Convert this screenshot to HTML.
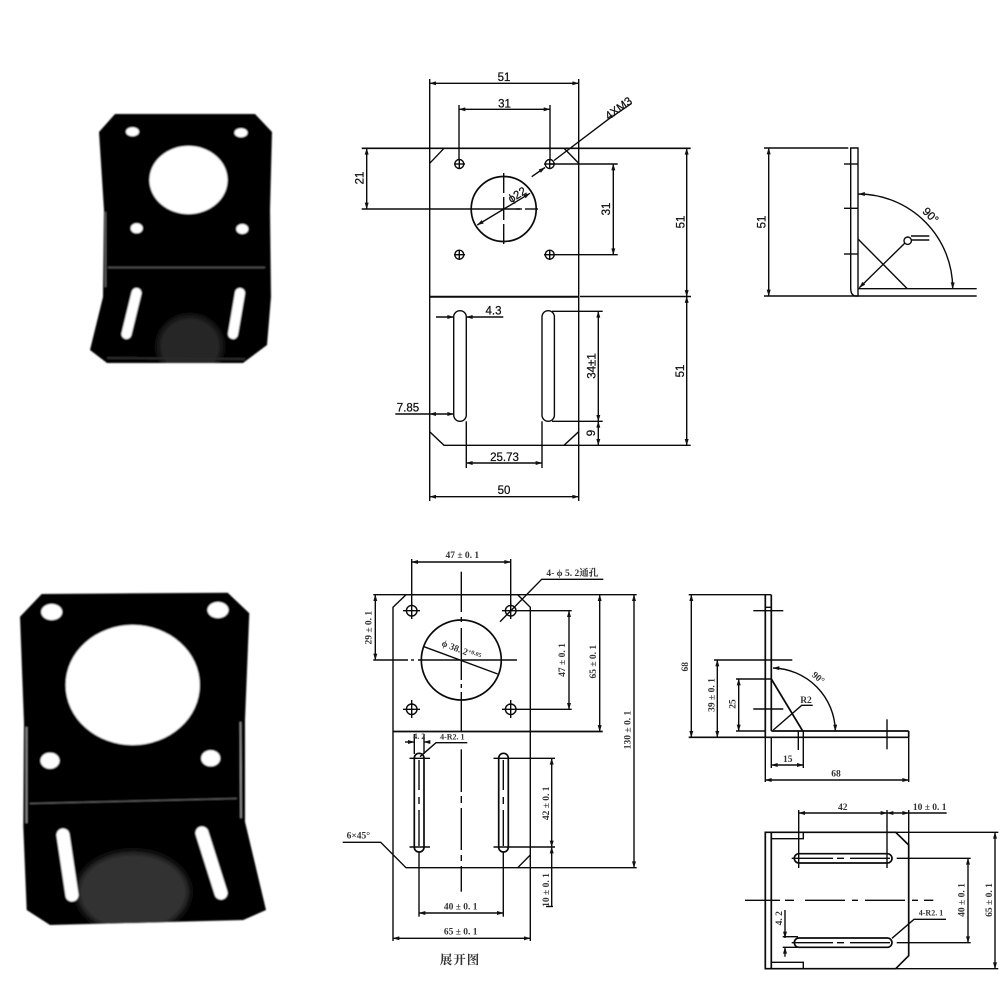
<!DOCTYPE html>
<html>
<head>
<meta charset="utf-8">
<style>
html,body{margin:0;padding:0;background:#fff;}
svg{display:block;}
.a{font-family:"Liberation Sans",sans-serif;font-size:11.500px;fill:#111;stroke:#111;stroke-width:.25;text-anchor:middle;dominant-baseline:middle;}
.b{font-family:"Liberation Serif","Noto Serif CJK SC",serif;font-size:9.500px;font-weight:bold;fill:#333;text-anchor:middle;dominant-baseline:middle;}
.l{filter:blur(.3px);}
.l path,.l line,.l polyline,.l polygon,.l circle,.l rect{fill:none;stroke:#0a0a0a;stroke-width:1.400;}
</style>
</head>
<body>
<svg width="1000" height="1000" viewBox="0 0 1000 1000" xmlns="http://www.w3.org/2000/svg">
<defs>
<marker id="m" viewBox="0 0 10 6" refX="9.500" refY="3" markerWidth="7" markerHeight="4" markerUnits="userSpaceOnUse" orient="auto-start-reverse"><path d="M0 0L10 3L0 6Z" fill="#111"/></marker>
<filter id="s" x="-5%" y="-5%" width="110%" height="110%"><feGaussianBlur stdDeviation="0.7"/></filter>
<filter id="s2" x="-30%" y="-30%" width="160%" height="160%"><feGaussianBlur stdDeviation="3"/></filter>
<clipPath id="c1"><polygon points="106,296 103,296 90,350 107,363 243,363 267,345 270,296"/></clipPath>
<clipPath id="c2"><polygon points="23,827 27,910 50,925 243,920 266,910 245,822"/></clipPath>
</defs>

<!-- Photo 1 -->
<g filter="url(#s)">
<polygon points="115,114 255,114 272,132 270,210 271,297 267,345 243,363 107,363 90,350 103,297 104,210 99,132" fill="#050505"/>
<g clip-path="url(#c1)"><ellipse cx="190" cy="346" rx="32" ry="30" fill="#262626" filter="url(#s2)"/></g>
<line x1="108" y1="267.500" x2="265" y2="267.500" stroke="#555" stroke-width="1.500"/>
<line x1="105.500" y1="212" x2="105.500" y2="287" stroke="#666" stroke-width="1.500"/>
<line x1="107" y1="358" x2="245" y2="359" stroke="#2a2a2a" stroke-width="2"/>
<ellipse cx="188.500" cy="180" rx="39" ry="34" fill="#fff"/>
<ellipse cx="132.500" cy="131.700" rx="6.500" ry="4.500" fill="#fff"/>
<ellipse cx="241" cy="132.700" rx="6.500" ry="4.500" fill="#fff"/>
<ellipse cx="136.700" cy="228.300" rx="6" ry="5" fill="#fff"/>
<ellipse cx="242.300" cy="229" rx="6" ry="5" fill="#fff"/>
<line x1="136.500" y1="293" x2="126.500" y2="334" stroke="#fff" stroke-width="10" stroke-linecap="round"/>
<line x1="240" y1="293" x2="233" y2="334" stroke="#fff" stroke-width="10" stroke-linecap="round"/>
</g>

<!-- Photo 2 -->
<g filter="url(#s)">
<polygon points="41.700,594 227.700,592.700 249.300,613.300 245,720 245,821.700 266,910 243.300,920 50,925 26.700,910 23.300,826.700 24,723 20,616.700" fill="#050505"/>
<g clip-path="url(#c2)"><ellipse cx="133" cy="892" rx="56" ry="40" fill="#303030" filter="url(#s2)"/></g>
<line x1="30" y1="803.500" x2="236.700" y2="798.500" stroke="#666" stroke-width="1"/>
<line x1="26.500" y1="727" x2="26.500" y2="823" stroke="#999" stroke-width="1.500"/>
<line x1="240.500" y1="722" x2="241" y2="818" stroke="#999" stroke-width="1.500"/>
<ellipse cx="132.700" cy="685" rx="67" ry="60" fill="#fff"/>
<ellipse cx="51.700" cy="612" rx="10.500" ry="8" fill="#fff"/>
<ellipse cx="218" cy="610" rx="10.500" ry="8" fill="#fff"/>
<ellipse cx="50" cy="760.700" rx="9.500" ry="8" fill="#fff"/>
<ellipse cx="210.700" cy="758.300" rx="9.500" ry="8" fill="#fff"/>
<line x1="63" y1="835" x2="72" y2="895" stroke="#fff" stroke-width="13" stroke-linecap="round"/>
<line x1="202" y1="833" x2="221" y2="893" stroke="#fff" stroke-width="13" stroke-linecap="round"/>
</g>

<!-- Top front drawing -->
<g class="l">
<line x1="429.700" y1="79" x2="429.700" y2="501"/>
<line x1="578.700" y1="79" x2="578.700" y2="501"/>
<line x1="429.700" y1="83.300" x2="578.700" y2="83.300" marker-start="url(#m)" marker-end="url(#m)"/>
<line x1="459" y1="105" x2="459" y2="160"/>
<line x1="550" y1="105" x2="550" y2="160"/>
<line x1="459" y1="109.300" x2="550" y2="109.300" marker-start="url(#m)" marker-end="url(#m)"/>
<line x1="361.700" y1="148.300" x2="690.700" y2="148.300" style="stroke-width:1.700"/>
<line x1="429.700" y1="163.300" x2="444" y2="148.300"/>
<line x1="564" y1="148.300" x2="578.700" y2="163.300"/>
<circle cx="459.300" cy="164" r="4.500"/><circle cx="549.700" cy="164" r="4.500"/>
<circle cx="459.300" cy="254.700" r="4.500"/><circle cx="549.700" cy="254.700" r="4.500"/>
<line x1="454" y1="164" x2="465" y2="164"/><line x1="459.300" y1="159" x2="459.300" y2="169"/>
<line x1="544" y1="164" x2="555" y2="164"/><line x1="549.700" y1="159" x2="549.700" y2="169"/>
<line x1="454" y1="254.700" x2="465" y2="254.700"/><line x1="459.300" y1="250" x2="459.300" y2="260"/>
<line x1="544" y1="254.700" x2="555" y2="254.700"/><line x1="549.700" y1="250" x2="549.700" y2="260"/>
<circle cx="503.700" cy="209" r="32.500" style="stroke-width:1.700"/>
<line x1="361.700" y1="209" x2="520" y2="209"/><line x1="516" y1="209" x2="522" y2="209"/><line x1="525" y1="209" x2="538" y2="209"/>
<line x1="503.700" y1="173" x2="503.700" y2="193"/><line x1="503.700" y1="197" x2="503.700" y2="220"/><line x1="503.700" y1="224" x2="503.700" y2="244"/>
<line x1="477.300" y1="225" x2="530" y2="193.300" marker-start="url(#m)" marker-end="url(#m)"/>
<line x1="366.700" y1="148.300" x2="366.700" y2="209" marker-start="url(#m)" marker-end="url(#m)"/>
<line x1="549.700" y1="164" x2="617.700" y2="164"/>
<line x1="549.700" y1="254.700" x2="617.700" y2="254.700"/>
<line x1="613.300" y1="164" x2="613.300" y2="254.700" marker-start="url(#m)" marker-end="url(#m)"/>
<line x1="686.700" y1="148.300" x2="686.700" y2="296.500" marker-start="url(#m)" marker-end="url(#m)"/>
<line x1="686.700" y1="296.500" x2="686.700" y2="445.300" marker-start="url(#m)" marker-end="url(#m)"/>
<line x1="580" y1="296.500" x2="691" y2="296.500"/>
<line x1="429.700" y1="296.700" x2="578.700" y2="296.700" style="stroke-width:2"/>
<line x1="531.700" y1="176.700" x2="545" y2="167.500" marker-end="url(#m)"/>
<polyline points="554,160.500 608.300,119.300 631.700,103.300"/>
<!-- lower -->
<path d="M429.700 431.700L444 445.300L564 445.300L578.700 431.700"/>
<line x1="564" y1="445.300" x2="690.700" y2="445.300"/>
<rect x="453.700" y="310.700" width="12.600" height="110.600" rx="6.300"/>
<rect x="542" y="310.700" width="12.400" height="110.600" rx="6.200"/>
<line x1="436" y1="317" x2="453.700" y2="317" marker-end="url(#m)"/>
<line x1="466.300" y1="317" x2="503.300" y2="317" marker-start="url(#m)"/>
<line x1="395.300" y1="414" x2="429.700" y2="414"/>
<line x1="429.700" y1="414" x2="453.700" y2="414" marker-start="url(#m)" marker-end="url(#m)"/>
<line x1="552" y1="311.300" x2="602.700" y2="311.300"/>
<line x1="552" y1="421.300" x2="602.700" y2="421.300"/>
<line x1="598.300" y1="311.300" x2="598.300" y2="421.300" marker-start="url(#m)" marker-end="url(#m)"/>
<line x1="598.300" y1="421.300" x2="598.300" y2="445.300" marker-start="url(#m)" marker-end="url(#m)"/>
<line x1="466.300" y1="421.300" x2="466.300" y2="468"/>
<line x1="542" y1="421.300" x2="542" y2="468"/>
<line x1="466.300" y1="463" x2="542" y2="463" marker-start="url(#m)" marker-end="url(#m)"/>
<line x1="429.700" y1="496.700" x2="578.700" y2="496.700" marker-start="url(#m)" marker-end="url(#m)"/>
</g>
<text class="a" x="504" y="78">51</text>
<text class="a" x="504.500" y="104.500">31</text>
<text class="a" transform="translate(360.500 178) rotate(-90)">21</text>
<text class="a" transform="translate(607 209) rotate(-90)">31</text>
<text class="a" transform="translate(681.500 222) rotate(-90)">51</text>
<text class="a" transform="translate(619 109) rotate(-36)">4XM3</text>
<text class="a" transform="translate(517.500 195.500) rotate(-32)">ϕ22</text>
<text class="a" x="493.500" y="311.500">4.3</text>
<text class="a" x="408" y="408.500">7.85</text>
<text class="a" transform="translate(592.500 366) rotate(-90)">34±1</text>
<text class="a" transform="translate(592 433) rotate(-90)">9</text>
<text class="a" transform="translate(681 371) rotate(-90)">51</text>
<text class="a" x="504.500" y="458">25.73</text>
<text class="a" x="504" y="491">50</text>

<!-- Top side drawing -->
<g class="l">
<line x1="764" y1="148" x2="848.300" y2="148"/>
<path d="M850.700 148L858 148L858 296L855 296Q850.700 295 850.700 288Z"/>
<line x1="764" y1="296" x2="976.700" y2="296"/>
<line x1="858" y1="288.700" x2="976.700" y2="288.700"/>
<line x1="768.700" y1="148" x2="768.700" y2="296" marker-start="url(#m)" marker-end="url(#m)"/>
<line x1="844" y1="164" x2="858" y2="164"/>
<line x1="844" y1="208.300" x2="858" y2="208.300"/>
<line x1="844" y1="254" x2="858" y2="254"/>
<line x1="858" y1="239" x2="907.300" y2="288.700"/>
<line x1="905" y1="243" x2="859.300" y2="287.700" marker-end="url(#m)"/>
<circle cx="907.700" cy="240.700" r="3.700"/>
<line x1="911" y1="236" x2="929.300" y2="236"/>
<line x1="911" y1="240" x2="929.300" y2="240"/>
<path d="M858.500 194A94.500 94.500 0 0 1 952.700 288.700" marker-start="url(#m)" marker-end="url(#m)"/>
</g>
<text class="a" transform="translate(762.500 222) rotate(-90)">51</text>
<text class="a" transform="translate(930 216) rotate(45)">90°</text>

<!-- Bottom unfolded drawing -->
<g class="l">
<path d="M393 941L393 607.300L406 594.700L517.700 594.700L530.300 607.300L530.300 855L517.700 867.700L406 867.700L380.700 842.300L342.700 842.300"/>
<line x1="530.300" y1="855" x2="530.300" y2="941"/>
<line x1="373.300" y1="594.700" x2="636.700" y2="594.700"/>
<line x1="393" y1="731.500" x2="602.700" y2="731.500" style="stroke-width:1.800"/>
<line x1="517.700" y1="867.700" x2="636.700" y2="867.700"/>
<line x1="411.700" y1="559" x2="411.700" y2="605"/>
<line x1="510.700" y1="559" x2="510.700" y2="605"/>
<line x1="411.700" y1="562" x2="510.700" y2="562" marker-start="url(#m)" marker-end="url(#m)"/>
<circle cx="411.700" cy="610.700" r="5.300"/><circle cx="510.700" cy="610.700" r="5.300"/>
<circle cx="411.700" cy="709.300" r="5.300"/><circle cx="510.700" cy="709.300" r="5.300"/>
<line x1="403" y1="610.700" x2="420" y2="610.700"/><line x1="411.700" y1="602" x2="411.700" y2="619"/>
<line x1="502" y1="610.700" x2="571.700" y2="610.700"/><line x1="510.700" y1="602" x2="510.700" y2="619"/>
<line x1="403" y1="709.300" x2="420" y2="709.300"/><line x1="411.700" y1="700" x2="411.700" y2="718"/>
<line x1="502" y1="709.300" x2="571.700" y2="709.300"/><line x1="510.700" y1="700" x2="510.700" y2="718"/>
<circle cx="461.300" cy="660" r="40" style="stroke-width:1.700"/>
<line x1="373.300" y1="660" x2="408" y2="660"/><line x1="411" y1="660" x2="414" y2="660"/><line x1="418" y1="660" x2="460" y2="660"/><line x1="462" y1="660" x2="517" y2="660"/>
<line x1="461.300" y1="571.700" x2="461.300" y2="612"/><line x1="461.300" y1="617" x2="461.300" y2="622"/><line x1="461.300" y1="628" x2="461.300" y2="680"/><line x1="461.300" y1="684" x2="461.300" y2="688"/><line x1="461.300" y1="692" x2="461.300" y2="731"/>
<line x1="461.300" y1="749.300" x2="461.300" y2="792"/><line x1="461.300" y1="796" x2="461.300" y2="803"/><line x1="461.300" y1="808" x2="461.300" y2="850"/><line x1="461.300" y1="855" x2="461.300" y2="861"/><line x1="461.300" y1="866" x2="461.300" y2="891.700"/>
<line x1="424" y1="646.700" x2="497.700" y2="674"/>
<polyline points="500,621.700 541.700,579.300 603.300,579.300"/>
<line x1="375.300" y1="594.700" x2="375.300" y2="660" marker-start="url(#m)" marker-end="url(#m)"/>
<line x1="569" y1="610.700" x2="569" y2="709.300" marker-start="url(#m)" marker-end="url(#m)"/>
<line x1="599.700" y1="594.700" x2="599.700" y2="731.500" marker-start="url(#m)" marker-end="url(#m)"/>
<line x1="634" y1="594.700" x2="634" y2="867.700" marker-start="url(#m)" marker-end="url(#m)"/>
<rect x="414.300" y="753.300" width="9.700" height="98.700" rx="4.800" style="stroke-width:1.700"/>
<rect x="498.700" y="753.300" width="9.600" height="98.700" rx="4.800" style="stroke-width:1.700"/>
<line x1="419" y1="760" x2="419" y2="790"/><line x1="419" y1="797" x2="419" y2="804"/><line x1="419" y1="810" x2="419" y2="846"/>
<line x1="503.300" y1="760" x2="503.300" y2="790"/><line x1="503.300" y1="797" x2="503.300" y2="804"/><line x1="503.300" y1="810" x2="503.300" y2="846"/>
<line x1="409.500" y1="758.300" x2="430" y2="758.300"/>
<line x1="493.500" y1="758.300" x2="555" y2="758.300"/>
<line x1="409.500" y1="847" x2="430" y2="847"/>
<line x1="493.500" y1="847" x2="555" y2="847"/>
<line x1="551.700" y1="758.300" x2="551.700" y2="847" marker-start="url(#m)" marker-end="url(#m)"/>
<line x1="551.700" y1="847" x2="551.700" y2="867.700" marker-start="url(#m)"/>
<line x1="551.700" y1="867.700" x2="551.700" y2="906"/>
<line x1="546" y1="906.500" x2="553" y2="906.500"/>
<line x1="419" y1="852" x2="419" y2="916.700"/>
<line x1="503.300" y1="852" x2="503.300" y2="916.700"/>
<line x1="419" y1="913" x2="503.300" y2="913" marker-start="url(#m)" marker-end="url(#m)"/>
<line x1="393" y1="938.300" x2="530.300" y2="938.300" marker-start="url(#m)" marker-end="url(#m)"/>
<line x1="405" y1="742" x2="414.300" y2="742" marker-end="url(#m)"/>
<line x1="424" y1="742" x2="430" y2="742" marker-start="url(#m)"/>
<line x1="414.300" y1="734" x2="414.300" y2="754"/>
<line x1="424" y1="734" x2="424" y2="754"/>
<polyline points="420,756.700 436,742.700 467.300,742.700"/>
</g>
<text class="b" x="462.300" y="556">47 ± 0. 1</text>
<text class="b" x="572.300" y="573.700">4- ϕ 5. 2通孔</text>
<text class="b" transform="translate(369.300 627.700) rotate(-90)">29 ± 0. 1</text>
<text class="b" transform="translate(563 660) rotate(-90)">47 ± 0. 1</text>
<text class="b" transform="translate(594 661.700) rotate(-90)">65 ± 0. 1</text>
<text class="b" transform="translate(628.300 730) rotate(-90)">130 ± 0. 1</text>
<text class="b" transform="translate(461 651) rotate(21)">ϕ 38. 2<tspan dy="-2" style="font-size:6px">+0.05</tspan></text>
<text class="b" transform="translate(546.700 803.300) rotate(-90)">42 ± 0. 1</text>
<text class="b" transform="translate(546.700 890) rotate(-90)">10 ± 0. 1</text>
<text class="b" x="460.700" y="907.300">40 ± 0. 1</text>
<text class="b" x="460.700" y="932.300">65 ± 0. 1</text>
<text class="b" x="358.300" y="836.300">6×45°</text>
<text class="b" x="419.300" y="737.300" style="font-size:8px">4. 2</text>
<text class="b" x="452.300" y="737.700" style="font-size:8px">4-R2. 1</text>
<text x="460" y="961" style="font-family:'Noto Serif CJK SC',serif;font-size:12.500px;font-weight:bold;fill:#333;text-anchor:middle;dominant-baseline:middle;letter-spacing:1px">展开图</text>

<!-- Bottom side view -->
<g class="l">
<line x1="688.700" y1="594.700" x2="771.300" y2="594.700"/>
<path d="M765.300 594.700L765.300 737.300M771.300 594.700L771.300 731" style="stroke-width:1.700"/>
<line x1="765.300" y1="607.300" x2="771.300" y2="607.300"/>
<line x1="688.700" y1="737.300" x2="908.700" y2="737.300" style="stroke-width:1.700"/>
<line x1="771.300" y1="731" x2="908.700" y2="731" style="stroke-width:1.700"/>
<line x1="908.700" y1="731" x2="908.700" y2="737.300" style="stroke-width:1.700"/>
<line x1="691.300" y1="594.700" x2="691.300" y2="737.300" marker-start="url(#m)" marker-end="url(#m)"/>
<line x1="714" y1="660" x2="792.300" y2="660"/>
<line x1="717.300" y1="660" x2="717.300" y2="737.300" marker-start="url(#m)" marker-end="url(#m)"/>
<line x1="736" y1="679" x2="771.300" y2="679"/>
<line x1="736" y1="731" x2="765.300" y2="731"/>
<line x1="738.700" y1="679" x2="738.700" y2="731" marker-start="url(#m)" marker-end="url(#m)"/>
<line x1="753.300" y1="610.700" x2="783.300" y2="610.700"/>
<line x1="753.300" y1="709" x2="783.300" y2="709"/>
<line x1="771.300" y1="679" x2="802.700" y2="731" style="stroke-width:1.700"/>
<polyline points="812.700,705.300 801.700,705.300 773.300,730"/>
<path d="M773 668A64 64 0 0 1 835.300 731" marker-start="url(#m)" marker-end="url(#m)"/>
<line x1="765.300" y1="737.300" x2="765.300" y2="782"/>
<line x1="771.300" y1="737.300" x2="771.300" y2="768"/>
<line x1="798.300" y1="731" x2="798.300" y2="750"/>
<line x1="803.300" y1="731" x2="803.300" y2="768"/>
<line x1="771.300" y1="765" x2="803.300" y2="765" marker-start="url(#m)" marker-end="url(#m)"/>
<line x1="765.300" y1="780" x2="908.700" y2="780" marker-start="url(#m)" marker-end="url(#m)"/>
<line x1="908.700" y1="737.300" x2="908.700" y2="782"/>
<line x1="887" y1="719.300" x2="887" y2="749.300"/>
</g>
<text class="b" transform="translate(686 666.700) rotate(-90)">68</text>
<text class="b" transform="translate(712.300 695) rotate(-90)">39 ± 0. 1</text>
<text class="b" transform="translate(733.300 704) rotate(-90)">25</text>
<text class="b" transform="translate(817.700 678.300) rotate(40)">90°</text>
<text class="b" x="806" y="700.700">R2</text>
<text class="b" x="787.700" y="760">15</text>
<text class="b" x="836" y="774.300">68</text>

<!-- Bottom top view -->
<g class="l">
<path d="M765.300 832.300L895.700 832.300L908.700 845L908.700 955.700L895.700 968.700L765.300 968.700Z" style="stroke-width:1.700"/>
<line x1="771.300" y1="832.300" x2="771.300" y2="968.700" style="stroke-width:1.700"/>
<polyline points="771.300,838.700 803.300,838.700 803.300,832.300"/>
<polyline points="771.300,962.300 803.300,962.300 803.300,968.700"/>
<line x1="895.700" y1="832.300" x2="998.300" y2="832.300"/>
<line x1="895.700" y1="968.700" x2="998.300" y2="968.700"/>
<line x1="995" y1="832.300" x2="995" y2="968.700" marker-start="url(#m)" marker-end="url(#m)"/>
<rect x="794.300" y="853.700" width="97.700" height="9.300" rx="4.650" style="stroke-width:1.700"/>
<rect x="794.300" y="938" width="97.700" height="9.300" rx="4.650" style="stroke-width:1.700"/>
<line x1="791.700" y1="858.300" x2="833" y2="858.300"/><line x1="837" y1="858.300" x2="844" y2="858.300"/><line x1="850" y1="858.300" x2="890" y2="858.300"/>
<line x1="791.700" y1="942.700" x2="833" y2="942.700"/><line x1="837" y1="942.700" x2="844" y2="942.700"/><line x1="850" y1="942.700" x2="890" y2="942.700"/>
<line x1="798.700" y1="810" x2="798.700" y2="868"/>
<line x1="887" y1="810" x2="887" y2="868"/>
<line x1="908.700" y1="810" x2="908.700" y2="845"/>
<line x1="798.700" y1="813" x2="887" y2="813" marker-start="url(#m)" marker-end="url(#m)"/>
<line x1="887" y1="813" x2="908.700" y2="813" marker-start="url(#m)" marker-end="url(#m)"/>
<line x1="908.700" y1="813" x2="946.700" y2="813"/>
<line x1="896.700" y1="858.300" x2="970.700" y2="858.300"/>
<line x1="896.700" y1="942.700" x2="970.700" y2="942.700"/>
<line x1="968" y1="858.300" x2="968" y2="942.700" marker-start="url(#m)" marker-end="url(#m)"/>
<line x1="745" y1="900.300" x2="780" y2="900.300"/><line x1="785" y1="900.300" x2="794" y2="900.300"/><line x1="805" y1="900.300" x2="845" y2="900.300"/><line x1="852" y1="900.300" x2="858" y2="900.300"/><line x1="865" y1="900.300" x2="905" y2="900.300"/><line x1="912" y1="900.300" x2="918" y2="900.300"/><line x1="924" y1="900.300" x2="933.300" y2="900.300"/>
<line x1="785" y1="910" x2="785" y2="938" marker-end="url(#m)"/>
<line x1="785" y1="947.300" x2="785" y2="956.700" marker-start="url(#m)"/>
<line x1="782.700" y1="936.700" x2="798" y2="936.700"/>
<line x1="782.700" y1="947.300" x2="798" y2="947.300"/>
<polyline points="892,938.300 914,919.300 946,919.300"/>
</g>
<text class="b" x="842.700" y="807.700">42</text>
<text class="b" x="929.700" y="808">10 ± 0. 1</text>
<text class="b" transform="translate(990 900) rotate(-90)">65 ± 0. 1</text>
<text class="b" transform="translate(962.300 900) rotate(-90)">40 ± 0. 1</text>
<text class="b" transform="translate(780 918.300) rotate(-90)">4. 2</text>
<text class="b" x="931" y="913.700" style="font-size:8px">4-R2. 1</text>
</svg>
</body>
</html>
